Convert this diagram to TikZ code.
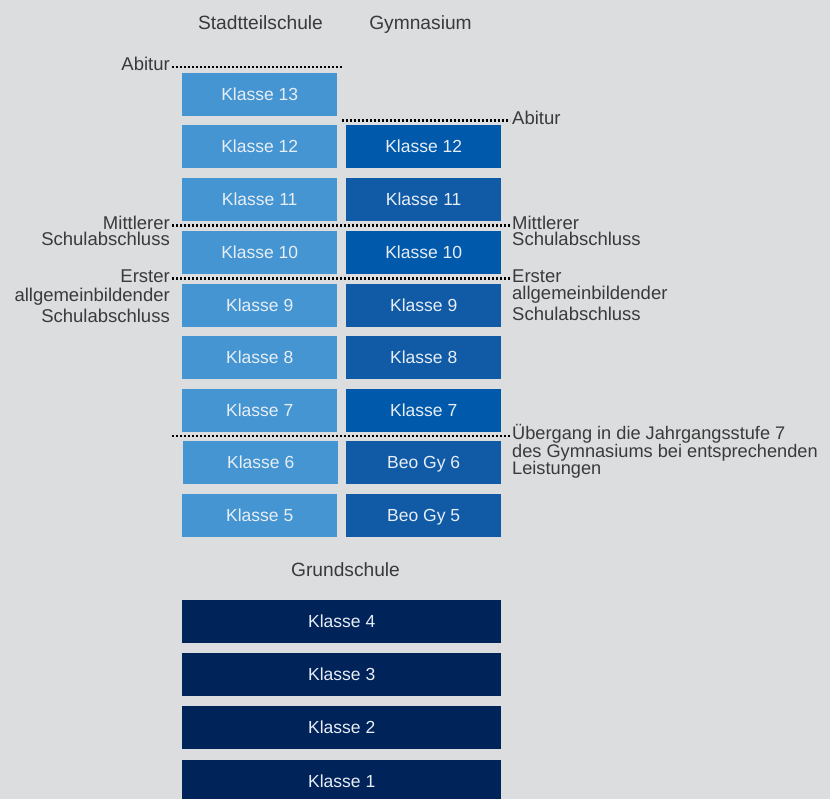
\documentclass[tikz,border=0pt]{standalone}
\usepackage{fontspec}
\setmainfont{Liberation Sans}
\definecolor{bg}{HTML}{DCDDDF}
\definecolor{stsblue}{HTML}{4495D1}
\definecolor{gymblue}{HTML}{0059AA}
\definecolor{gymblueB}{HTML}{105AA6}
\definecolor{gsnavy}{HTML}{00235A}
\definecolor{boxtext}{HTML}{E8EEF6}
\definecolor{lbltext}{HTML}{3A3A3A}
\begin{document}
\begin{tikzpicture}[x=1pt,y=-1pt,
  box/.style={rectangle, anchor=north west, minimum width=155pt, minimum height=43pt, inner sep=0pt, text height=12.5pt, text depth=0pt, text=boxtext, font=\fontsize{17.5}{20}\selectfont},
  sts/.style={box, fill=stsblue},
  gymA/.style={box, fill=gymblue},
  gymB/.style={box, fill=gymblueB},
  gs/.style={box, fill=gsnavy, minimum width=319pt},
  lbl/.style={inner xsep=2pt, inner ysep=0pt, text height=7.6pt, text depth=0pt, text=lbltext, font=\fontsize{18.5}{20}\selectfont},
  lblline/.style={inner sep=0pt, text=lbltext, font=\fontsize{18.5}{20}\selectfont},
  head/.style={inner sep=0pt, text=lbltext, font=\fontsize{19.2}{20}\selectfont, anchor=base},
  dotline/.style={draw=black, line width=2.8pt, dash pattern=on 2.3pt off 1.7pt}
]
\fill[bg] (0,0) rectangle (830,799);
\useasboundingbox (0,0) rectangle (830,799);

% headers
\node[head] (hsts) at (260.5,29.5) {Stadtteilschule};
\node[head] (hgym) at (420.5,29.5) {Gymnasium};
\node[head] (hgs) at (345.5,576.5) {Grundschule};

% Stadtteilschule
\node[sts] (s13) at (182,73) {Klasse 13};
\node[sts] (s12) at (182,125) {Klasse 12};
\node[sts] (s11) at (182,178) {Klasse 11};
\node[sts] (s10) at (182,231) {Klasse 10};
\node[sts] (s9) at (182,284) {Klasse 9};
\node[sts] (s8) at (182,336) {Klasse 8};
\node[sts] (s7) at (182,389) {Klasse 7};
\node[sts] (s6) at (183,441) {Klasse 6};
\node[sts] (s5) at (182,494) {Klasse 5};

% Gymnasium
\node[gymA] (g12) at (346,125) {Klasse 12};
\node[gymB] (g11) at (346,178) {Klasse 11};
\node[gymA] (g10) at (346,231) {Klasse 10};
\node[gymB] (g9) at (346,284) {Klasse 9};
\node[gymB] (g8) at (346,336) {Klasse 8};
\node[gymA] (g7) at (346,389) {Klasse 7};
\node[gymB] (g6) at (346,441) {Beo Gy 6};
\node[gymB] (g5) at (346,494) {Beo Gy 5};

% Grundschule
\node[gs] (k4) at (182,600) {Klasse 4};
\node[gs] (k3) at (182,653) {Klasse 3};
\node[gs] (k2) at (182,706) {Klasse 2};
\node[gs] (k1) at (182,760) {Klasse 1};

% Abitur
\node[lbl, anchor=east] (abiL) at (172,67) {Abitur};
\coordinate (abiLend) at (342,67);
\draw[dotline] (abiL.east) -- (abiLend);
\node[lbl, anchor=west] (abiR) at (510,120.5) {Abitur};
\coordinate (abiRbeg) at (342,120.5);
\draw[dotline] (abiRbeg) -- (abiR.west);

% Mittlerer Schulabschluss
\node[lbl, anchor=east] (mitL) at (172,225.5) {Mittlerer};
\node[lblline, anchor=base east] (mitL2) at (170,246) {Schulabschluss};
\node[lbl, anchor=west] (mitR) at (510,225.5) {Mittlerer};
\node[lblline, anchor=base west] (mitR2) at (512,246) {Schulabschluss};
\draw[dotline] (mitL.east) -- (mitR.west);

% Erster allgemeinbildender Schulabschluss
\node[lbl, anchor=east] (ersL) at (172,278.5) {Erster};
\node[lblline, anchor=base east] (ersL2) at (170,301.5) {allgemeinbildender};
\node[lblline, anchor=base east] (ersL3) at (170,322.7) {Schulabschluss};
\node[lbl, anchor=west] (ersR) at (510,278.5) {Erster};
\node[lblline, anchor=base west] (ersR2) at (512,299.5) {allgemeinbildender};
\node[lblline, anchor=base west] (ersR3) at (512,320.5) {Schulabschluss};
\draw[dotline] (ersL.east) -- (ersR.west);

% Uebergang
\coordinate (uebBeg) at (172,436);
\node[lbl, anchor=west, font=\fontsize{18.2}{20}\selectfont] (ueb) at (510,436) {Übergang in die Jahrgangsstufe 7};
\node[lblline, anchor=base west, font=\fontsize{18.2}{20}\selectfont] (ueb2) at (512,457.8) {des Gymnasiums bei entsprechenden};
\node[lblline, anchor=base west, font=\fontsize{18.2}{20}\selectfont] (ueb3) at (512,474.8) {Leistungen};
\draw[dotline] (uebBeg) -- (ueb.west);
\end{tikzpicture}
\end{document}
